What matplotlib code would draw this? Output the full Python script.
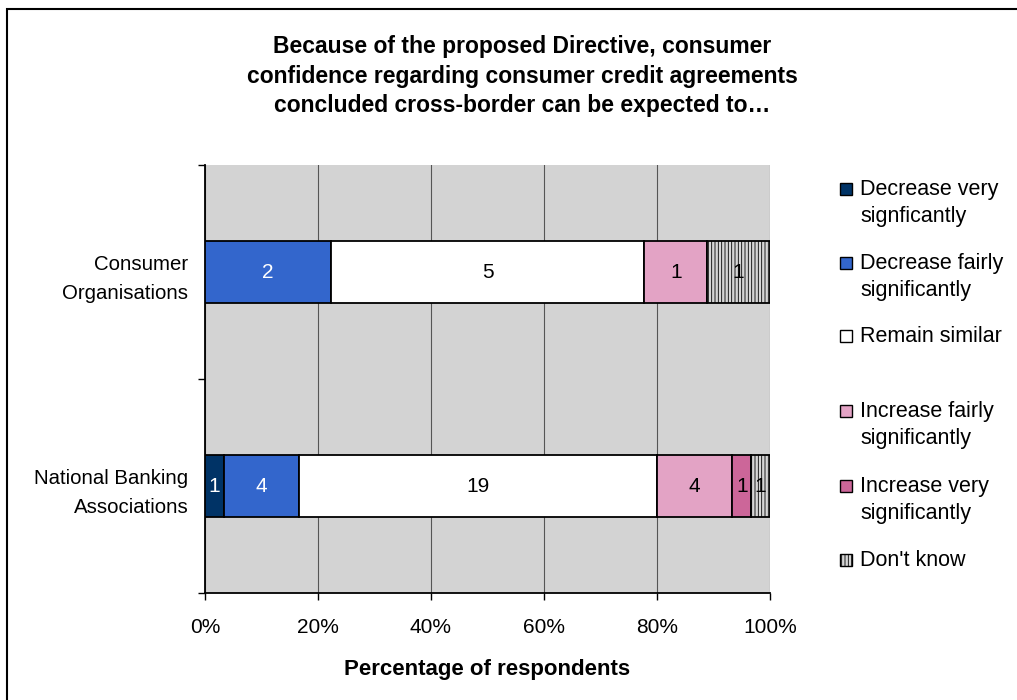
import numpy as np
import matplotlib.pyplot as plt
from matplotlib.patches import Rectangle

plt.rcParams['font.family'] = ['Liberation Sans', 'DejaVu Sans']
plt.rcParams['hatch.color'] = '#9a9a9a'
plt.rcParams['hatch.linewidth'] = 0.6

groups = ['Consumer\nOrganisations', 'National Banking\nAssociations']
series = ['Decrease very\nsignficantly', 'Decrease fairly\nsignificantly', 'Remain similar',
          'Increase fairly\nsignificantly', 'Increase very\nsignificantly', "Don't know"]
counts = [
    [0, 1],   # decrease very
    [2, 4],   # decrease fairly
    [5, 19],  # remain similar
    [1, 4],   # increase fairly
    [0, 1],   # increase very
    [1, 1],   # don't know
]
colors = ['#003366', '#3366CC', '#FFFFFF', '#E3A3C5', '#CC6699', '#D6D6D6']
hatches = [None, None, None, None, None, '|||||']
text_colors = ['white', 'white', 'black', 'black', 'black', 'black']

counts = np.array(counts, dtype=float)
totals = counts.sum(axis=0)
shares = counts / totals * 100

fig = plt.figure(figsize=(10.17, 7.0), dpi=100)
ax = fig.add_axes([205 / 1017, 1 - 593 / 700, 565 / 1017, 428 / 700])
ax.set_facecolor('#D3D3D3')

ypos = np.array([1, 0])
left = np.zeros(len(groups))
for i, name in enumerate(series):
    bars = ax.barh(ypos, shares[i], left=left, height=0.29, color=colors[i],
                   edgecolor='black', linewidth=1.3, hatch=hatches[i], zorder=3)
    for j, b in enumerate(bars):
        if counts[i, j] > 0:
            ax.text(left[j] + shares[i, j] / 2, ypos[j], '%d' % counts[i, j],
                    ha='center', va='center', fontsize=15, color=text_colors[i], zorder=4)
    left += shares[i]

ax.set_xlim(0, 100)
ax.set_ylim(-0.5, 1.5)
ax.set_xticks(np.arange(0, 101, 20))
ax.set_xticklabels(['%d%%' % v for v in range(0, 101, 20)], fontsize=15)
ax.set_yticks([-0.5, 0.5, 1.5])
ax.set_yticklabels([])
ax.set_yticks(ypos, minor=True)
ax.set_yticklabels(groups, minor=True, fontsize=14.7, linespacing=1.68)
ax.tick_params(axis='y', which='minor', length=0, pad=12)
ax.tick_params(axis='y', which='major', length=5, width=1)
ax.tick_params(axis='x', length=5, width=1, pad=13)
ax.xaxis.grid(True, color='#555555', linewidth=0.8, zorder=0)
ax.set_axisbelow(True)
for s in ['top', 'right']:
    ax.spines[s].set_visible(False)
ax.spines['left'].set_linewidth(1.3)
ax.spines['bottom'].set_linewidth(1.3)
ax.set_xlabel('Percentage of respondents', fontsize=16, fontweight='bold', labelpad=16)

fig.text(522 / 1017, 1 - 76 / 700,
         'Because of the proposed Directive, consumer\n'
         'confidence regarding consumer credit agreements\n'
         'concluded cross-border can be expected to\u2026',
         ha='center', va='center', fontsize=16.5, fontweight='bold', linespacing=1.35)

# legend
leg_y = [189, 263, 336, 411, 486, 560]
for i, name in enumerate(series):
    y = leg_y[i]
    fig.patches.append(Rectangle((840 / 1017, 1 - (y + 6) / 700), 12 / 1017, 12 / 700,
                                 transform=fig.transFigure, facecolor=colors[i],
                                 edgecolor='black', linewidth=1.0, hatch=hatches[i]))
    if '\n' in name:
        fig.text(860 / 1017, 1 - (y + 14) / 700, name, ha='left', va='center',
                 fontsize=15.5, linespacing=1.4)
    else:
        fig.text(860 / 1017, 1 - y / 700, name, ha='left', va='center', fontsize=15.5)

fig.patches.append(Rectangle((7 / 1017, -0.1), 1.1, 1 - 9 / 700 + 0.1, transform=fig.transFigure,
                             fill=False, edgecolor='black', linewidth=1.5))

fig.savefig('out.png', dpi=100)
